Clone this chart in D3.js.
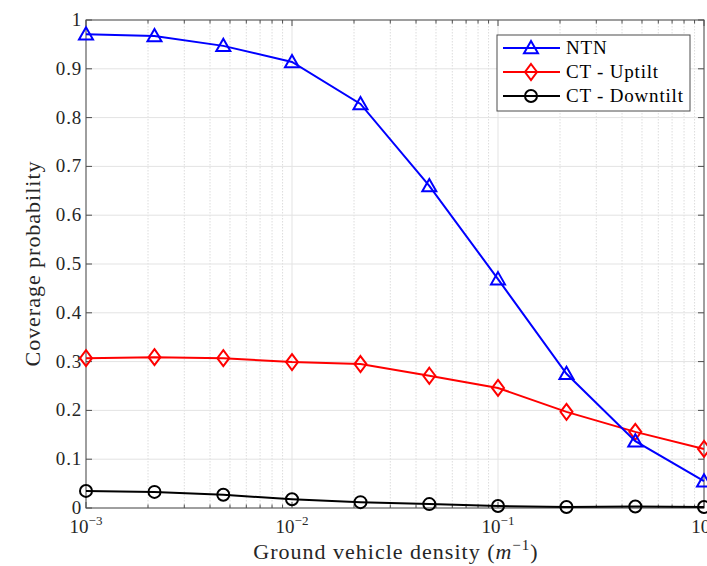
<!DOCTYPE html>
<html><head><meta charset="utf-8">
<script src="https://cdn.jsdelivr.net/npm/d3@7"></script>
<style>body{margin:0;background:#fff}svg{display:block}</style>
</head><body>
<script>
const xValues = [0.001, 0.00215, 0.00464, 0.01, 0.0215, 0.0464, 0.1, 0.215, 0.464, 1];
const ntn = [0.971, 0.967, 0.947, 0.914, 0.828, 0.660, 0.469, 0.275, 0.137, 0.055];
const ctUptilt = [0.307, 0.309, 0.307, 0.299, 0.295, 0.271, 0.246, 0.197, 0.156, 0.121];
const ctDowntilt = [0.035, 0.033, 0.027, 0.018, 0.012, 0.008, 0.004, 0.002, 0.003, 0.002];
const seriesNames = ["NTN", "CT - Uptilt", "CT - Downtilt"];
const seriesColors = ["#0000ff", "#ff0000", "#000000"];
const seriesMarkers = ["triangle", "diamond", "circle"];
const yTicks = [0, 0.1, 0.2, 0.3, 0.4, 0.5, 0.6, 0.7, 0.8, 0.9, 1];
const xTickExps = [-3, -2, -1, 0];

const W = 707, H = 566;
const m = {l: 86, r: 704, t: 20, b: 508};
const FONT = "'Liberation Serif', 'DejaVu Serif', serif";
const axisColor = "#4d4d4d";

const svg = d3.select("body").append("svg").attr("width", W).attr("height", H)
  .style("font-family", FONT);

const x = d3.scaleLog().domain([1e-3, 1]).range([m.l, m.r]);
const y = d3.scaleLinear().domain([0, 1]).range([m.b, m.t]);

// minor ticks
const minor = [];
for (let e = -3; e < 0; e++) for (let k = 2; k <= 9; k++) minor.push(k * Math.pow(10, e));
const major = xTickExps.map(e => Math.pow(10, e));

const grid = svg.append("g");
grid.selectAll(".mx").data(minor).join("line")
  .attr("x1", d => x(d)).attr("x2", d => x(d)).attr("y1", m.t).attr("y2", m.b)
  .attr("stroke", "#dcdcdc").attr("stroke-width", 1).attr("stroke-dasharray", "1.5,1.5");
grid.selectAll(".Mx").data(major).join("line")
  .attr("x1", d => x(d)).attr("x2", d => x(d)).attr("y1", m.t).attr("y2", m.b)
  .attr("stroke", "#e3e3e3").attr("stroke-width", 1);
grid.selectAll(".My").data(yTicks).join("line")
  .attr("x1", m.l).attr("x2", m.r).attr("y1", d => y(d)).attr("y2", d => y(d))
  .attr("stroke", "#e3e3e3").attr("stroke-width", 1);

// axes box and ticks
const ax = svg.append("g").attr("stroke", axisColor).attr("stroke-width", 1);
ax.append("rect").attr("x", m.l).attr("y", m.t).attr("width", m.r - m.l).attr("height", m.b - m.t)
  .attr("fill", "none");
const tl = 6, tlm = 3.5;
yTicks.forEach(v => {
  ax.append("line").attr("x1", m.l).attr("x2", m.l + tl).attr("y1", y(v)).attr("y2", y(v));
  ax.append("line").attr("x1", m.r).attr("x2", m.r - tl).attr("y1", y(v)).attr("y2", y(v));
});
major.forEach(v => {
  ax.append("line").attr("x1", x(v)).attr("x2", x(v)).attr("y1", m.b).attr("y2", m.b - tl);
  ax.append("line").attr("x1", x(v)).attr("x2", x(v)).attr("y1", m.t).attr("y2", m.t + tl);
});
minor.forEach(v => {
  ax.append("line").attr("x1", x(v)).attr("x2", x(v)).attr("y1", m.b).attr("y2", m.b - tlm);
  ax.append("line").attr("x1", x(v)).attr("x2", x(v)).attr("y1", m.t).attr("y2", m.t + tlm);
});

// tick labels
svg.selectAll(".yl").data(yTicks).join("text")
  .attr("x", m.l - 4).attr("y", d => y(d) + 6)
  .attr("text-anchor", "end").attr("font-size", 19).attr("letter-spacing", 0.8).attr("fill", "#262626")
  .text(d => d === 0 ? "0" : d === 1 ? "1" : d3.format(".1f")(d));

xTickExps.forEach(e => {
  const t = svg.append("text").attr("x", x(Math.pow(10, e))).attr("y", 533)
    .attr("text-anchor", "middle").attr("font-size", 19).attr("fill", "#262626");
  t.append("tspan").text("10");
  t.append("tspan").attr("dy", -8).attr("font-size", 13).text(e !== 0 ? "\u2212" + Math.abs(e) : "0");
});

// axis labels
const xl = svg.append("text").attr("x", 396).attr("y", 559).attr("text-anchor", "middle")
  .attr("font-size", 22).attr("letter-spacing", 1).attr("fill", "#262626");
xl.append("tspan").text("Ground vehicle density (");
xl.append("tspan").attr("font-style", "italic").text("m");
xl.append("tspan").attr("dy", -9).attr("font-size", 15).text("\u22121");
xl.append("tspan").attr("dy", 9).text(")");

svg.append("text").attr("transform", `translate(40,${(m.t + m.b) / 2}) rotate(-90)`)
  .attr("text-anchor", "middle").attr("font-size", 22).attr("fill", "#262626")
  .attr("textLength", 205).attr("lengthAdjust", "spacing")
  .text("Coverage probability");

// series
const allSeries = [ntn, ctUptilt, ctDowntilt];
const line = d3.line().x((d, i) => x(xValues[i])).y(d => y(d));

function drawMarker(g, type, cx, cy, color) {
  if (type === "triangle") {
    const s = 7;
    g.append("path").attr("d", `M${cx},${cy - s} L${cx + s},${cy + s * 0.75} L${cx - s},${cy + s * 0.75} Z`)
      .attr("fill", "none").attr("stroke", color).attr("stroke-width", 2);
  } else if (type === "diamond") {
    g.append("path").attr("d", `M${cx},${cy - 8} L${cx + 6},${cy} L${cx},${cy + 8} L${cx - 6},${cy} Z`)
      .attr("fill", "none").attr("stroke", color).attr("stroke-width", 2);
  } else {
    g.append("circle").attr("cx", cx).attr("cy", cy).attr("r", 6)
      .attr("fill", "none").attr("stroke", color).attr("stroke-width", 2);
  }
}

const plotG = svg.append("g");
[2, 1, 0].forEach(si => {
  const data = allSeries[si];
  plotG.append("path").datum(data).attr("d", line).attr("fill", "none")
    .attr("stroke", seriesColors[si]).attr("stroke-width", 2);
  data.forEach((v, i) => drawMarker(plotG, seriesMarkers[si], x(xValues[i]), y(v), seriesColors[si]));
});

// legend
const lg = svg.append("g");
lg.append("rect").attr("x", 497).attr("y", 35).attr("width", 193).attr("height", 76)
  .attr("fill", "#fff").attr("stroke", axisColor).attr("stroke-width", 1);
seriesNames.forEach((n, i) => {
  const ly = 48 + i * 24;
  lg.append("line").attr("x1", 503).attr("x2", 560).attr("y1", ly).attr("y2", ly)
    .attr("stroke", seriesColors[i]).attr("stroke-width", 2);
  drawMarker(lg, seriesMarkers[i], 531, ly, seriesColors[i]);
  lg.append("text").attr("x", 566).attr("y", ly + 6).attr("font-size", 19).attr("letter-spacing", 0.8)
    .attr("fill", "#000").text(n);
});
</script>
</body></html>
